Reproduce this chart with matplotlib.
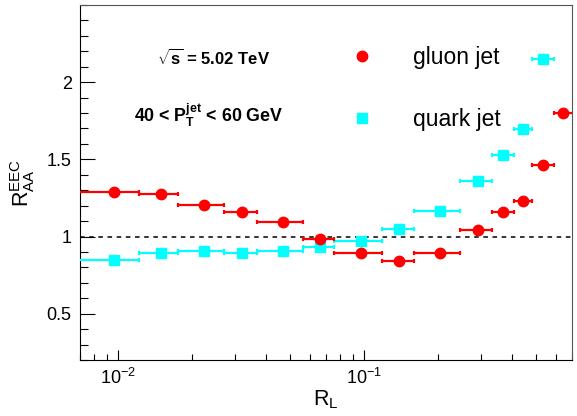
import numpy as np
import matplotlib
matplotlib.use('Agg')
import matplotlib.pyplot as plt
from matplotlib.lines import Line2D
from matplotlib.ticker import MultipleLocator, LogLocator, NullFormatter

plt.rcParams['font.family'] = ['Liberation Sans', 'DejaVu Sans']
plt.rcParams['mathtext.fontset'] = 'custom'
plt.rcParams['mathtext.rm'] = 'Liberation Sans'
plt.rcParams['mathtext.it'] = 'Liberation Sans:italic'
plt.rcParams['mathtext.bf'] = 'Liberation Sans:bold'

# R_L bins (centres and edges)
rl_center = [0.00963, 0.01492, 0.02231, 0.03192, 0.04660, 0.06604, 0.09696,
             0.1388, 0.2031, 0.2891, 0.3681, 0.4437, 0.5362, 0.6439]
rl_low = [0.0060, 0.01217, 0.01750, 0.02690, 0.03670, 0.05650, 0.07560,
          0.1180, 0.1595, 0.2460, 0.3320, 0.4080, 0.4830, 0.5910]
rl_high = [0.01217, 0.01750, 0.02690, 0.03670, 0.05650, 0.07560, 0.1180,
           0.1595, 0.2460, 0.3320, 0.4080, 0.4830, 0.5910, 0.7500]

# R_AA^EEC ratios
gluon_raa = [1.290, 1.273, 1.206, 1.156, 1.091, 0.985, 0.896,
             0.844, 0.896, 1.043, 1.158, 1.227, 1.461, 1.801]
quark_raa = [0.849, 0.892, 0.909, 0.896, 0.907, 0.931, 0.970,
             1.050, 1.167, 1.357, 1.530, 1.697, 2.152]


def xerr_for(n):
    c = np.array(rl_center[:n])
    return [c - np.array(rl_low[:n]), np.array(rl_high[:n]) - c]


fig = plt.figure(figsize=(5.77, 4.16), dpi=100)
ax = fig.add_axes([0.1386, 0.1346, 0.8527, 0.8534])

nq = len(quark_raa)
ng = len(gluon_raa)
ax.errorbar(rl_center[:nq], quark_raa, xerr=xerr_for(nq), fmt='s', color='#00ffff',
            ms=7.5, elinewidth=1.6, capsize=1.2, capthick=1.6, zorder=3)
ax.errorbar(rl_center[:ng], gluon_raa, xerr=xerr_for(ng), fmt='o', color='#ff0000',
            ms=7.5, elinewidth=1.6, capsize=1.2, capthick=1.6, zorder=4)

ax.axhline(1.0, color='black', ls=(0, (3, 3)), lw=1.1, zorder=2)

ax.set_xscale('log')
ax.set_xlim(0.007, 0.7)
ax.set_ylim(0.2, 2.5)

ax.yaxis.set_major_locator(MultipleLocator(0.5))
ax.yaxis.set_minor_locator(MultipleLocator(0.1))
ax.xaxis.set_major_locator(LogLocator(base=10))
ax.xaxis.set_minor_locator(LogLocator(base=10, subs=np.arange(2, 10)))
ax.xaxis.set_minor_formatter(NullFormatter())
ax.set_yticks([0.5, 1, 1.5, 2])
ax.set_yticklabels(['0.5', '1', '1.5', '2'])

ax.tick_params(axis='both', which='both', direction='in', top=False, right=False,
               labelsize=13, width=0.8, pad=6)
ax.tick_params(axis='y', which='major', length=11)
ax.tick_params(axis='y', which='minor', length=5.5)
ax.tick_params(axis='x', which='major', length=7.5)
ax.tick_params(axis='x', which='minor', length=4)

for side in ['top', 'right']:
    ax.spines[side].set_color('#555555')
for side in ['left', 'bottom']:
    ax.spines[side].set_color('black')

ax.set_ylabel(r'$\mathrm{R}_{\mathrm{AA}}^{\mathrm{EEC}}$', fontsize=15.5, labelpad=7)
ax.set_xlabel(r'$\mathrm{R}_{\mathrm{L}}$', fontsize=15.5, labelpad=0)

fig.text(0.370, 1 - 65 / 416, r'$\sqrt{\mathbf{s}}$ = 5.02 TeV', fontsize=12,
         fontweight='bold', ha='center', va='baseline')
fig.text(0.362, 1 - 122 / 416,
         r'40 < $\mathbf{P}_{\mathbf{T}}^{\mathbf{jet}}$ < 60 GeV', fontsize=12.8,
         fontweight='bold', ha='center', va='baseline')

handles = [Line2D([], [], ls='none', marker='o', color='#ff0000', ms=7.5),
           Line2D([], [], ls='none', marker='s', color='#00ffff', ms=7.5)]
ax.legend(handles, ['gluon jet', 'quark jet'], loc='upper left',
          bbox_to_anchor=(351 / 577, 1 - 46 / 416), bbox_transform=fig.transFigure,
          frameon=False, fontsize=16.5, borderpad=0, borderaxespad=0,
          handlelength=1.0, handletextpad=1.69, labelspacing=1.7)

fig.savefig('out.png', dpi=100)
